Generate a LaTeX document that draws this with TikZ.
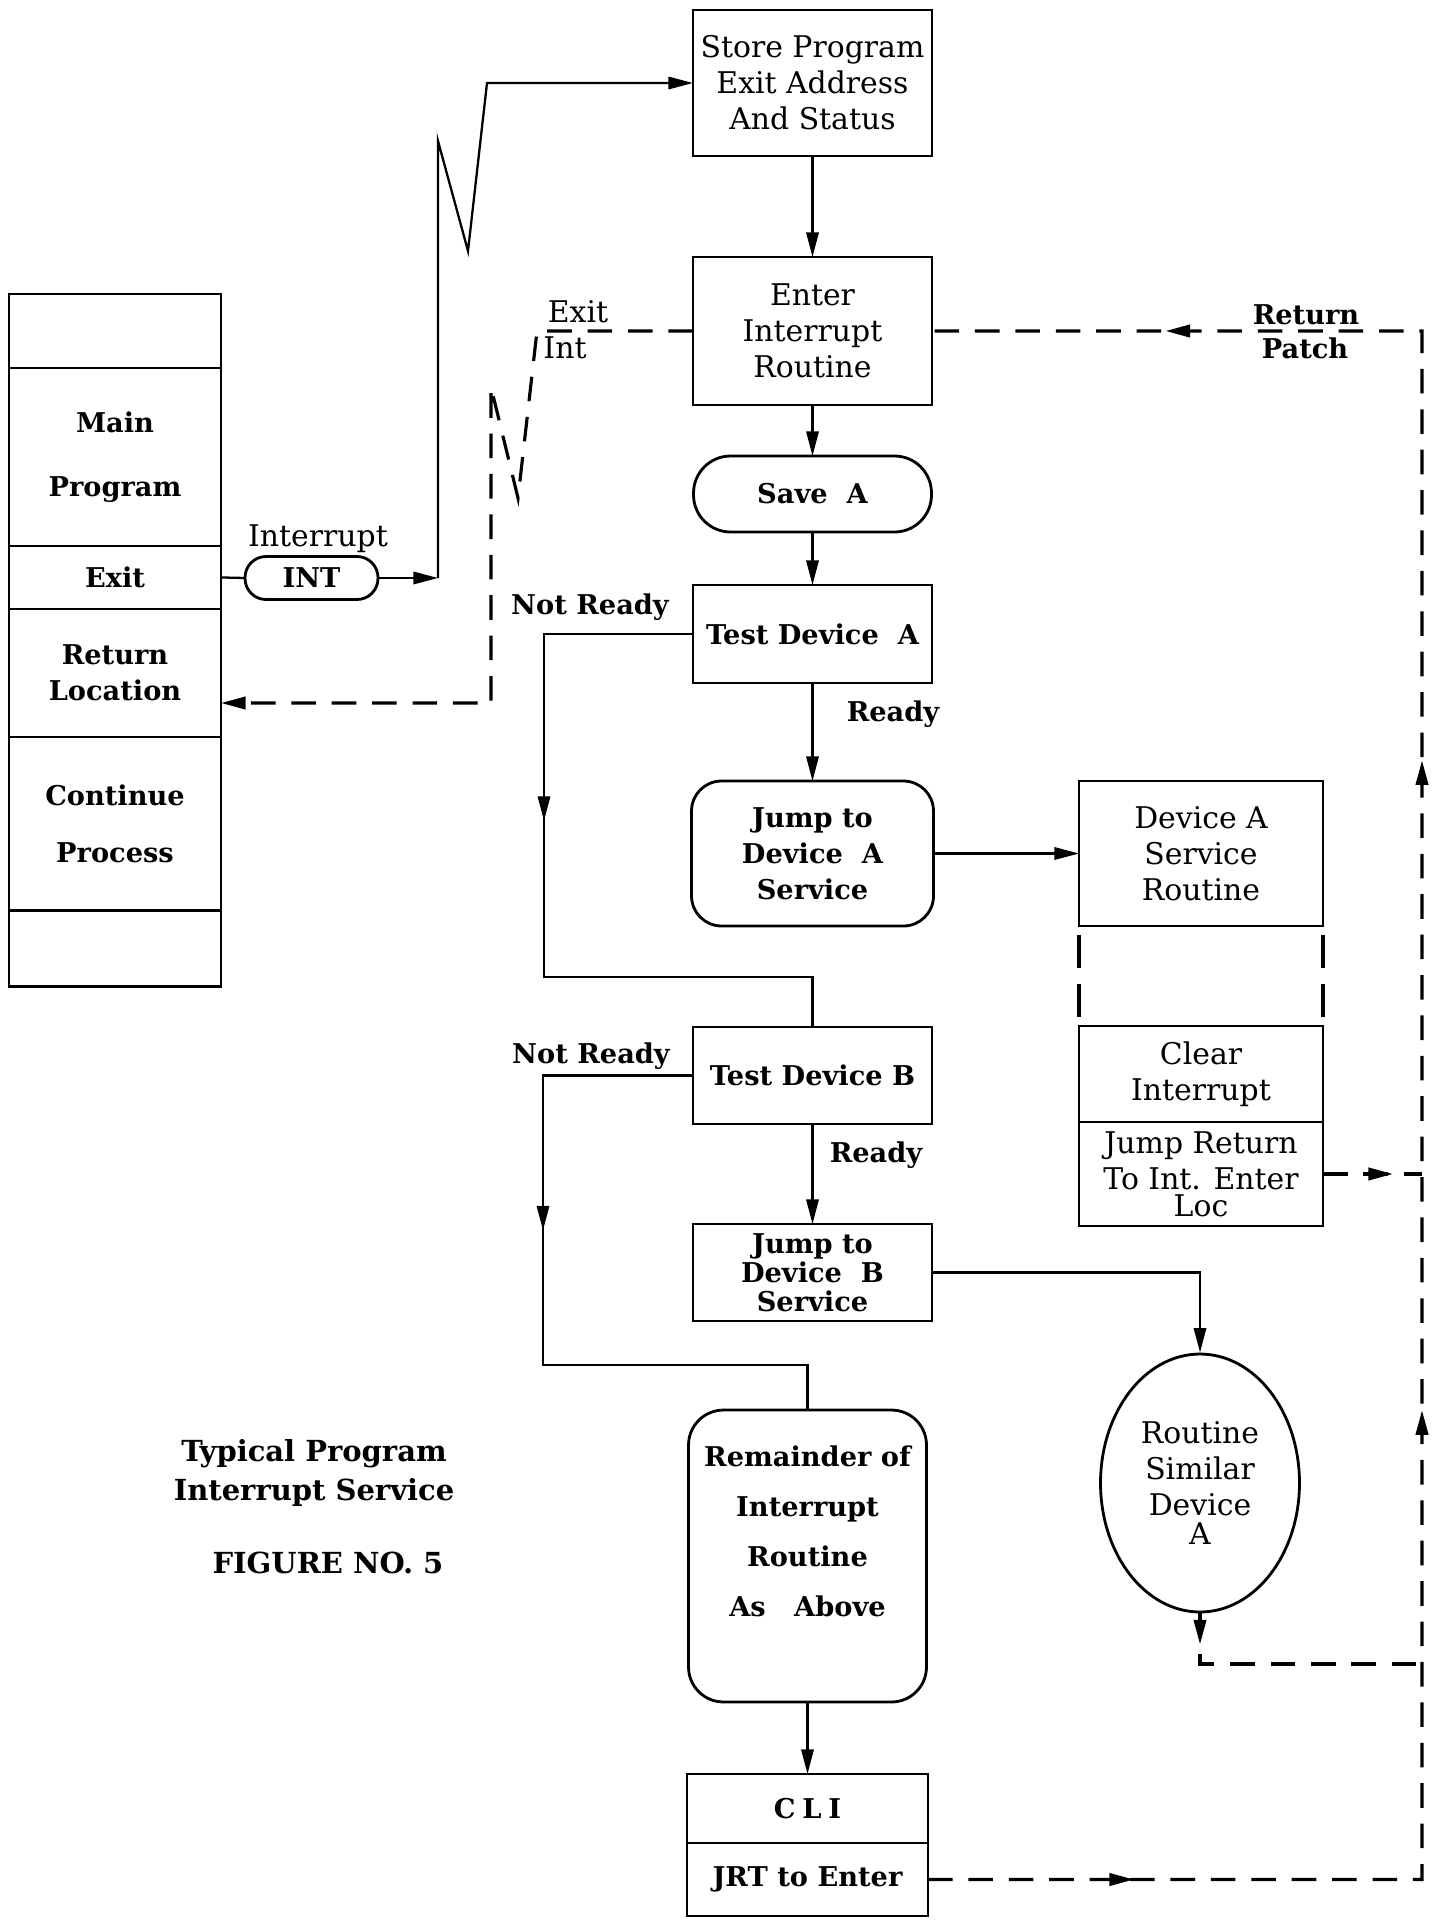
\documentclass[tikz,border=0pt]{standalone}
\usepackage{fontspec}
\setmainfont{DejaVu Serif}
\usetikzlibrary{arrows.meta, positioning, shapes.geometric, decorations.markings}

\begin{document}
\begin{tikzpicture}[x=0.02cm, y=-0.02cm,
  every node/.style={font=\fontsize{17}{20.5}\selectfont},
  box/.style={draw, line width=1.6pt, minimum width=4.78cm, align=center,
    inner sep=0pt, outer sep=0pt},
  bfbox/.style={box, font=\fontsize{15.5}{20.5}\selectfont\bfseries},
  cell/.style={draw, line width=1.6pt, minimum width=4.24cm, align=center,
    inner sep=0pt, outer sep=0pt, font=\fontsize{15.5}{20.5}\selectfont\bfseries},
  lbl/.style={font=\fontsize{15.5}{20.5}\selectfont\bfseries, inner sep=0pt},
  line/.style={line width=1.3pt},
  arr/.style={line, -{Triangle[length=14pt,width=7pt]}},
  dline/.style={line width=1.8pt, dash pattern=on 14pt off 9pt},
  darr/.style={dline, -{Triangle[length=14pt,width=7pt]}},
  tipat/.style={postaction={decorate, decoration={markings,
      mark=at position #1 with {\arrow[solid]{Triangle[length=14pt,width=7pt]}}}}},
  ]
  \useasboundingbox (0,0) rectangle (1437,1923);
  \fill[white] (0,0) rectangle (1437,1923);
  % ---- main program column ----
  \node[cell, minimum height=1.48cm] (mtop) at (115,331) {};
  \node[cell, minimum height=3.56cm, below=0pt of mtop] (mprog) {Main\\[16pt]Program};
  \node[cell, minimum height=1.26cm, below=0pt of mprog] (mexit) {Exit};
  \node[cell, minimum height=2.56cm, below=0pt of mexit] (mret) {Return\\Location};
  \node[cell, minimum height=3.48cm, below=0pt of mret] (mcont) {Continue\\[12pt]Process};
  \node[cell, minimum height=1.52cm, below=0pt of mcont] (mbot) {};

  % ---- interrupt pill ----
  \node[bfbox, minimum width=2.66cm, minimum height=0.86cm,
    rounded corners=0.42cm] (int) at (311.5,578) {INT};
  \node[inner sep=0pt] (intlbl) at (318,539) {Interrupt};

  % ---- interrupt routine ----
  \node[box, minimum height=2.92cm] (store) at (812.5,83)
  {Store Program\\Exit Address\\And Status};
  \node[box, minimum height=2.96cm] (enter) at (812.5,331)
  {Enter\\Interrupt\\Routine};
  \node[bfbox, minimum width=4.76cm, minimum height=1.52cm,
    rounded corners=0.74cm] (save) at (812.5,494) {Save\ \ A};
  \node[bfbox, minimum height=1.96cm] (testA) at (812.5,634) {Test Device\ \ A};
  \node[bfbox, minimum width=4.84cm, minimum height=2.9cm,
    rounded corners=0.6cm] (jumpA) at (812.5,853.5)
  {Jump to\\Device\ \ A\\Service};
  \node[bfbox, minimum height=1.94cm] (testB) at (812.5,1075.5) {Test Device B};
  \node[bfbox, minimum height=1.94cm,
    font=\fontsize{15.5}{16.5}\selectfont\bfseries] (jumpB) at (812.5,1272.5)
  {Jump to\\Device\ \ B\\Service};
  \node[bfbox, minimum width=4.76cm, minimum height=5.84cm,
    rounded corners=0.7cm] (rem) at (807.5,1556)
  {Remainder of\\[8pt]Interrupt\\[8pt]Routine\\[8pt]As\ \ \ Above\\[8pt]\mbox{}};
  \node[bfbox, minimum width=4.82cm, minimum height=1.38cm] (cli) at (807.5,1808.5)
  {C\hspace{0.25em}L\hspace{0.25em}I};
  \node[bfbox, minimum width=4.82cm, minimum height=1.46cm, below=0pt of cli] (jrt)
  {JRT to Enter};

  % ---- device service ----
  \node[box, minimum width=4.88cm, minimum height=2.9cm] (devA) at (1201,853.5)
  {Device A\\Service\\Routine};
  \node[box, minimum width=4.88cm, minimum height=1.92cm] (clr) at (1201,1074)
  {Clear\\Interrupt};
  \node[box, minimum width=4.88cm, minimum height=2.08cm, below=0pt of clr] (jret)
  {Jump Return\\To Int. Enter\\[-5pt]Loc};
  \node[draw, ellipse, line width=1.6pt, minimum width=3.98cm, minimum height=5.16cm,
    inner sep=0pt, align=center] (circ) at (1200,1483)
  {Routine\\Similar\\Device\\[-4pt]A};

  % ---- labels ----
  \node[lbl] (nrA) at (590,607) {Not Ready};
  \node[lbl] (rdA) at (893,714) {Ready};
  \node[lbl] (nrB) at (591,1056) {Not Ready};
  \node[lbl] (rdB) at (876,1155) {Ready};
  \node[inner sep=0pt] (exitlbl) at (578,312) {Exit};
  \node[inner sep=0pt] (intl) at (565,348) {Int};
  \node[lbl] (retlbl) at (1306,315) {Return};
  \node[lbl] (patchlbl) at (1305,348) {Patch};
  \node[lbl, font=\fontsize{16.5}{22}\selectfont\bfseries, align=center] (title)
  at (314,1473) {Typical Program\\Interrupt Service};
  \node[lbl, font=\fontsize{16.5}{22}\selectfont\bfseries] (fig) at (328,1563)
  {FIGURE NO. 5};

  % ---- solid connectors ----
  \coordinate (k1) at (438,578);
  \coordinate (k2) at (438,141);
  \coordinate (k3) at (468,251);
  \coordinate (k4) at (487,83);
  \draw[line] (mexit.east) -- (int.west);
  \draw[arr] (int.east) -- (k1);
  \draw[arr] (k1) -- (k2) -- (k3) -- (k4) -- (store.west);

  \draw[arr] (store) -- (enter);
  \draw[arr] (enter) -- (save);
  \draw[arr] (save) -- (testA);
  \draw[arr] (testA) -- (jumpA);
  \draw[arr] (jumpA) -- (devA);
  \draw[arr] (testB) -- (jumpB);
  \draw[arr] (rem) -- (cli);
  \draw[arr] (jumpB.east) -| (circ.north);

  \coordinate (nrA1) at (544,634);
  \coordinate (nrA2) at (544,977);
  \draw[line, tipat=6.72cm] (testA.west) -- (nrA1) -- (nrA2) -| (testB.north);
  \coordinate (nrB1) at (543,1075.5);
  \coordinate (nrB2) at (543,1365);
  \draw[line, tipat=6.1cm] (testB.west) -- (nrB1) -- (nrB2) -| (rem.north);

  % ---- dashed return paths ----
  \coordinate (rt1) at (1422,1879.5);
  \coordinate (rt2) at (1422,331);
  \draw[dline, tipat=4.12cm, tipat=19.27cm, tipat=32.27cm, tipat=45.99cm]
  (jrt.east) -- (rt1) -- (rt2) -- (enter.east);
  \draw[dline, tipat=1.4cm] (jret.east) -- (jret.east -| rt1);
  \coordinate (cs) at (1200,1664);
  \draw[dline, tipat=0.62cm] (circ.south) -- (cs) -- (cs -| rt1);
  \draw[dline, dash pattern=on 19pt off 9pt]
  ([yshift=-5pt]devA.south west) -- ([yshift=5pt]clr.north west);
  \draw[dline, dash pattern=on 19pt off 9pt]
  ([yshift=-5pt]devA.south east) -- ([yshift=5pt]clr.north east);

  \coordinate (ex1) at (537,331);
  \coordinate (ex2) at (518,498);
  \coordinate (ex3) at (491,387);
  \coordinate (ex4) at (491,703);
  \draw[darr] (enter.west) -- (ex1) -- (ex2) -- (ex3) -- (ex4) -- (mret.east |- ex4);
\end{tikzpicture}
\end{document}
